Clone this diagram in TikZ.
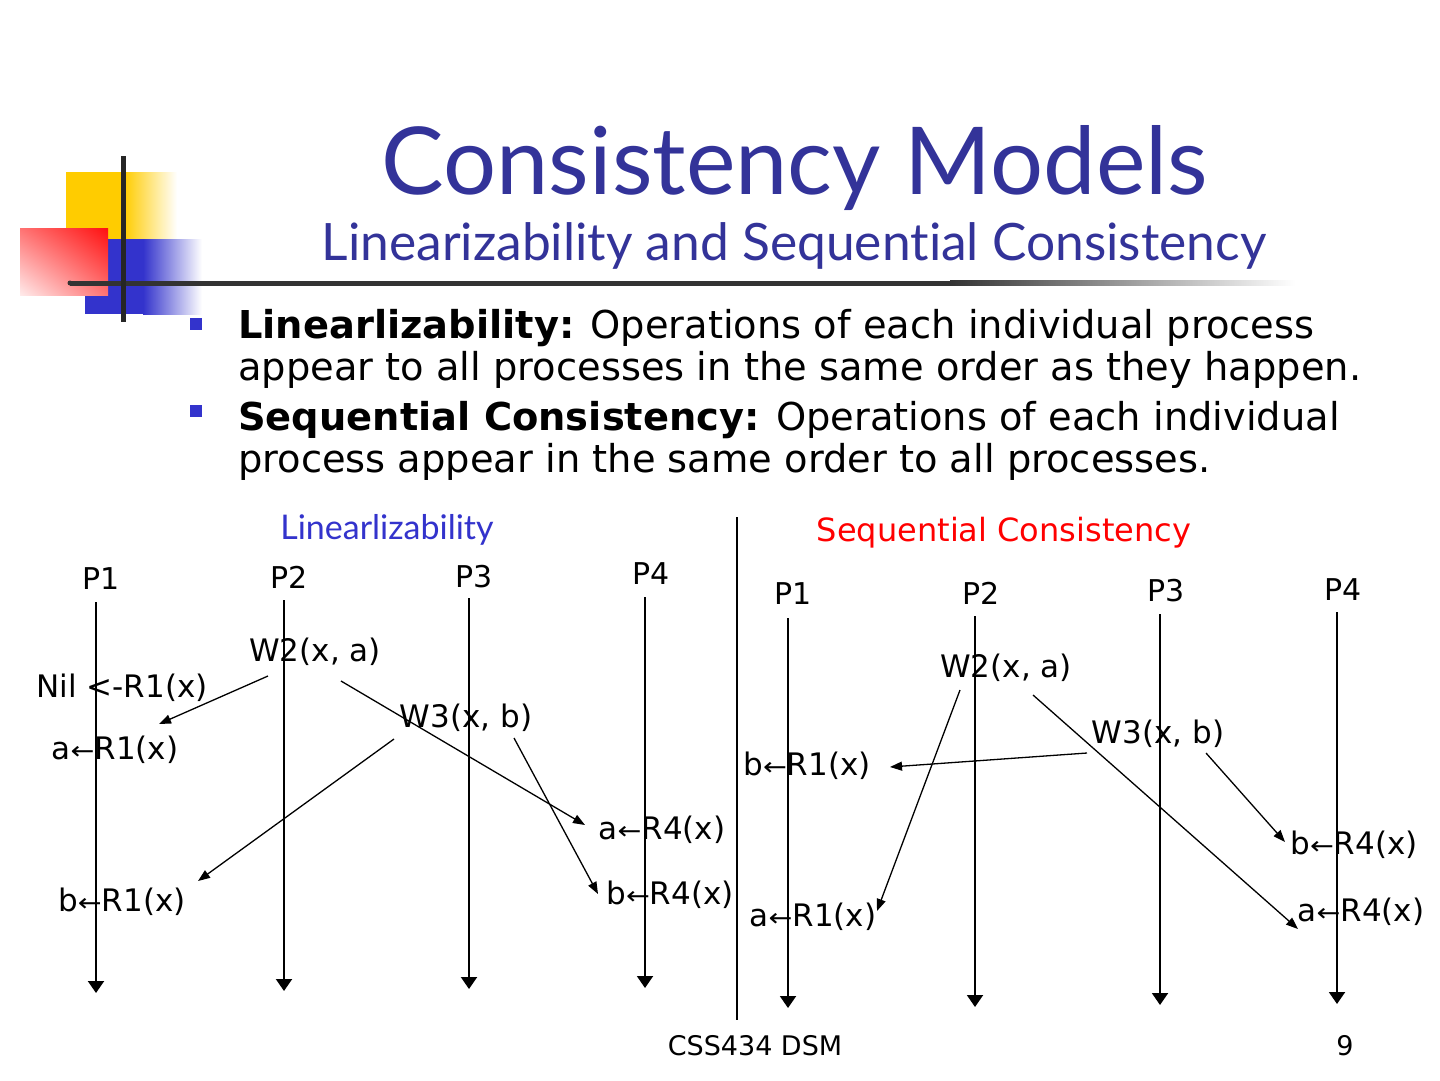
\documentclass[tikz,border=0pt]{standalone}
\usepackage{fontspec}
\setmainfont{DejaVu Sans}
\newfontfamily\titlefont[Ligatures=NoCommon]{Lato}
\usetikzlibrary{arrows.meta,shadings}
\definecolor{titleblue}{HTML}{333399}
\definecolor{lblue}{HTML}{3333CC}
\definecolor{logoyellow}{HTML}{FFCC00}
\definecolor{logoblue}{HTML}{3333CC}
\definecolor{logored}{HTML}{FF1010}
\definecolor{bargray}{HTML}{333333}
\newcommand\larr{\scalebox{0.92}[0.8]{←}}
\begin{document}
\begin{tikzpicture}[x=1bp,y=-1bp,
  lbl/.style={font=\fontsize{31bp}{36bp}\selectfont, inner sep=0pt},
  plbl/.style={font=\fontsize{30bp}{36bp}\selectfont, inner sep=0pt},
  body/.style={font=\fontsize{38.4bp}{42bp}\selectfont, inner sep=0pt, anchor=base west},
  proc/.style={line width=2bp, -{Triangle[width=16bp,length=12bp]}},
  msg/.style={line width=1.3bp, -{Triangle[width=9bp,length=12bp]}},
  bullet/.style={fill=lblue, draw=none}]
\useasboundingbox (0,0) rectangle (1440,1080);
\fill[white] (0,0) rectangle (1440,1080);

% ---- logo ----
\fill[logoyellow] (66,172) rectangle (124,240);
\shade[left color=logoyellow, right color=white] (124,172) rectangle (177,240);
\fill[logoblue] (85,239) rectangle (143,314);
\shade[left color=logoblue, right color=white] (143,239) rectangle (202,314);
\shade[upper right=logored, upper left=red!55, lower right=red!55, lower left=red!8] (20,228) rectangle (108,295);
% horizontal bar
\fill[bargray] (70,280.5) rectangle (950,285.5);
\fill[bargray] (70,283) circle (2.5);
\shade[left color=bargray, right color=white] (950,280.5) rectangle (1295,285.5);
% vertical bar
\fill[black!85] (120.5,156) rectangle (125.5,322);

% ---- title ----
\node[font=\titlefont\fontsize{93.7bp}{100bp}\selectfont, text=titleblue, anchor=base, inner sep=0pt] (title) at (795,194) {Consistency Models};
\node[font=\titlefont\fontsize{51.5bp}{56bp}\selectfont, text=titleblue, anchor=base, inner sep=0pt] (subtitle) at (794,260) {Linearizability and Sequential Consistency};

% ---- bullets ----
\fill[bullet] (190,318) rectangle (202,330);
\fill[bullet] (190,405) rectangle (202,417);
\node[body] (b1a) at (238,338) {\textbf{Linearlizability:} Operations of each individual process};
\node[body] (b1b) at (238,380) {appear to all processes in the same order as they happen.};
\node[body] (b2a) at (238,430) {\textbf{Sequential Consistency:} Operations of each individual};
\node[body] (b2b) at (238,472) {process appear in the same order to all processes.};

% ---- headings ----
\node[font=\titlefont\fontsize{34bp}{38bp}\selectfont, text=lblue, inner sep=0pt] (hlin) at (387,530) {Linearlizability};
\node[font=\fontsize{32bp}{36bp}\selectfont, inner sep=0pt, text=red] (hseq) at (1004,533) {Sequential Consistency};
\coordinate (divtop) at (737,517);
\coordinate (divbot) at (737,1020);
\draw[line width=2bp] (divtop) -- (divbot);

% ---- left diagram ----
\node[plbl] (LP1) at (101,579) {P1};
\node[plbl] (LP2) at (289,577) {P2};
\node[plbl] (LP3) at (474,577) {P3};
\node[plbl] (LP4) at (651,574) {P4};
\coordinate (LP1t) at (96,602);  \coordinate (LP1b) at (96,993);
\coordinate (LP2t) at (284,600); \coordinate (LP2b) at (284,991);
\coordinate (LP3t) at (469,598); \coordinate (LP3b) at (469,989);
\coordinate (LP4t) at (645,597); \coordinate (LP4b) at (645,988);
\draw[proc] (LP1t) -- (LP1b);
\draw[proc] (LP2t) -- (LP2b);
\draw[proc] (LP3t) -- (LP3b);
\draw[proc] (LP4t) -- (LP4b);

\node[lbl] (Lw2) at (315,652) {W2(x, a)};
\node[lbl] (Lnil) at (122,688) {Nil <-R1(x)};
\node[lbl] (Lw3) at (466,718) {W3(x, b)};
\node[lbl] (Lr1a) at (115,750) {a\larr R1(x)};
\node[lbl] (Lr4a) at (662,830) {a\larr R4(x)};
\node[lbl] (Lr4b) at (670,895) {b\larr R4(x)};
\node[lbl] (Lr1b) at (122,902) {b\larr R1(x)};

\coordinate (Lm1s) at (268,676); \coordinate (Lm1e) at (159,724);
\coordinate (Lm2s) at (341,681); \coordinate (Lm2e) at (585,825);
\coordinate (Lm3s) at (394,739); \coordinate (Lm3e) at (198,881);
\coordinate (Lm4s) at (514,738); \coordinate (Lm4e) at (598,894);
\draw[msg] (Lm1s) -- (Lm1e);
\draw[msg] (Lm2s) -- (Lm2e);
\draw[msg] (Lm3s) -- (Lm3e);
\draw[msg] (Lm4s) -- (Lm4e);

% ---- right diagram ----
\node[plbl] (RP1) at (793,594) {P1};
\node[plbl] (RP2) at (981,593) {P2};
\node[plbl] (RP3) at (1166,591) {P3};
\node[plbl] (RP4) at (1343,590) {P4};
\coordinate (RP1t) at (788,618);  \coordinate (RP1b) at (788,1008);
\coordinate (RP2t) at (975,616);  \coordinate (RP2b) at (975,1007);
\coordinate (RP3t) at (1160,614); \coordinate (RP3b) at (1160,1005);
\coordinate (RP4t) at (1337,612); \coordinate (RP4b) at (1337,1004);
\draw[proc] (RP1t) -- (RP1b);
\draw[proc] (RP2t) -- (RP2b);
\draw[proc] (RP3t) -- (RP3b);
\draw[proc] (RP4t) -- (RP4b);

\node[lbl] (Rw2) at (1006,668) {W2(x, a)};
\node[lbl] (Rw3) at (1158,734) {W3(x, b)};
\node[lbl] (Rr1b) at (807,766) {b\larr R1(x)};
\node[lbl] (Rr4b) at (1354,845) {b\larr R4(x)};
\node[lbl] (Rr4a) at (1361,912) {a\larr R4(x)};
\node[lbl] (Rr1a) at (813,917) {a\larr R1(x)};

\coordinate (Rm1s) at (1087,753); \coordinate (Rm1e) at (890,767);
\coordinate (Rm2s) at (960,690);  \coordinate (Rm2e) at (877,911);
\coordinate (Rm3s) at (1033,695); \coordinate (Rm3e) at (1298,929);
\coordinate (Rm4s) at (1206,753); \coordinate (Rm4e) at (1285,842);
\draw[msg] (Rm1s) -- (Rm1e);
\draw[msg] (Rm2s) -- (Rm2e);
\draw[msg] (Rm3s) -- (Rm3e);
\draw[msg] (Rm4s) -- (Rm4e);

% ---- footer ----
\node[font=\fontsize{27bp}{32bp}\selectfont, inner sep=0pt] (foot) at (755,1046) {CSS434 DSM};
\node[font=\fontsize{27bp}{32bp}\selectfont, inner sep=0pt] (page) at (1345,1046) {9};
\end{tikzpicture}
\end{document}
